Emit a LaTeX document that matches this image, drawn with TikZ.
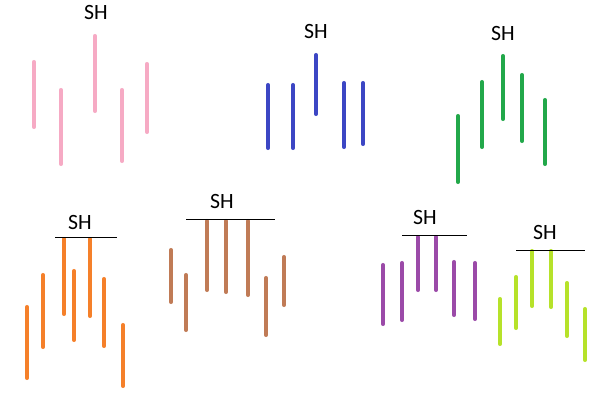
\documentclass[tikz,border=0pt]{standalone}
\usepackage{fontspec}
\setmainfont{Carlito}
\usetikzlibrary{positioning}
\definecolor{merahmuda}{RGB}{246, 170, 196}
\definecolor{biru}{RGB}{60, 70, 196}
\definecolor{hijau}{RGB}{34, 168, 74}
\definecolor{oranye}{RGB}{245, 128, 42}
\definecolor{coklat}{RGB}{192, 123, 86}
\definecolor{ungu}{RGB}{155, 74, 168}
\definecolor{limau}{RGB}{182, 226, 42}

\begin{document}
\begin{tikzpicture}[
    x=0.025cm, y=-0.025cm,
    batang/.style={line width=2.9pt, line cap=round},
    atap/.style={black, line width=0.7pt},
    tulisan/.style={font=\fontsize{15.5}{18}\selectfont, inner sep=0pt}
  ]
    \useasboundingbox (0,0) rectangle (600,400);
    % kelompok atas
    \node[tulisan] (shA) at (96,13) {SH};
    \foreach \x/\a/\b in {34/62/127, 61/90/164, 95/36/111, 122/90/161, 147/64/132}
      \draw[batang, merahmuda] (\x,\a) -- (\x,\b);
    \node[tulisan] (shB) at (316,32) {SH};
    \foreach \x/\a/\b in {268/85/148, 293/85/148, 316/55/114, 344/83/147, 363/83/144}
      \draw[batang, biru] (\x,\a) -- (\x,\b);
    \node[tulisan] (shC) at (503,34) {SH};
    \foreach \x/\a/\b in {458/116/182, 482/82/147, 503/56/119, 522/75/141, 545/100/164}
      \draw[batang, hijau] (\x,\a) -- (\x,\b);
    % kelompok bawah, dengan garis atap
    \node[tulisan] (shD) at (80,223) {SH};
    \coordinate (dKiri) at (55,237.5);
    \coordinate (dKanan) at (117,237.5);
    \foreach \x/\a/\b in {27/307/378, 43/275/347, 64/239/314, 74/271/340, 90/239/316, 104/279/346, 123/325/386}
      \draw[batang, oranye] (\x,\a) -- (\x,\b);
    \draw[atap] (dKiri) -- (dKanan);
    \node[tulisan] (shE) at (222,202) {SH};
    \coordinate (eKiri) at (186,219);
    \coordinate (eKanan) at (275,219);
    \foreach \x/\a/\b in {171/250/302, 186/275/330, 207/221/290, 226/221/292, 248/221/295, 266/278/335, 284/257/305}
      \draw[batang, coklat] (\x,\a) -- (\x,\b);
    \draw[atap] (eKiri) -- (eKanan);
    \node[tulisan] (shF) at (425,218) {SH};
    \coordinate (fKiri) at (402,235);
    \coordinate (fKanan) at (467,235);
    \foreach \x/\a/\b in {383/265/324, 402/263/320, 418/237/290, 436/237/290, 454/262/315, 475/263/319}
      \draw[batang, ungu] (\x,\a) -- (\x,\b);
    \draw[atap] (fKiri) -- (fKanan);
    \node[tulisan] (shG) at (545,233) {SH};
    \coordinate (gKiri) at (516,250);
    \coordinate (gKanan) at (585,250);
    \foreach \x/\a/\b in {500/299/344, 516/277/328, 532/251/306, 551/251/307, 567/283/336, 585/309/360}
      \draw[batang, limau] (\x,\a) -- (\x,\b);
    \draw[atap] (gKiri) -- (gKanan);
  \end{tikzpicture}
\end{document}
